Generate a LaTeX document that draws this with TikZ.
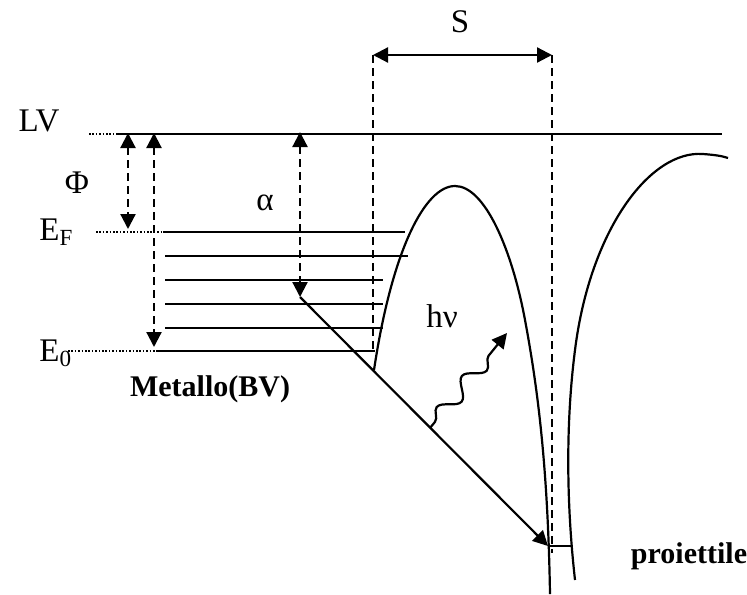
\documentclass[tikz,border=0pt]{standalone}
\usepackage{fontspec}
\setmainfont{Liberation Serif}
\usetikzlibrary{arrows.meta,decorations.pathmorphing}
\tikzset{
  level/.style={line width=1.1pt},
  guide/.style={line width=0.7pt, dash pattern=on 0.8pt off 0.9pt},
  gap/.style={line width=1.1pt, dash pattern=on 4pt off 2.5pt},
  tipboth/.style={{Triangle[length=7.5pt,width=7.5pt]}-{Triangle[length=7.5pt,width=7.5pt]}},
  tipend/.style={-{Triangle[length=7.5pt,width=7.5pt]}},
  lbl/.style={inner sep=0pt},
  boldlbl/.style={inner sep=0pt, font=\fontsize{15}{18}\selectfont\bfseries}
}
\begin{document}
\begin{tikzpicture}[x=0.5pt,y=-0.5pt,font=\fontsize{16.5}{19}\selectfont]
\useasboundingbox (0,0) rectangle (747,594);

% vacuum level and metal levels
\coordinate (lvdot) at (89,134);
\coordinate (lvA) at (118,134);
\coordinate (lvB) at (722,134);
\draw[guide] (lvdot) -- (lvA);
\draw[level] (lvA) -- (lvB);

\coordinate (efdot) at (96,232);
\coordinate (efA) at (163,232);
\coordinate (efB) at (405,232);
\draw[guide] (efdot) -- (efA);
\draw[level] (efA) -- (efB);

\coordinate (l2A) at (165,256); \coordinate (l2B) at (408,256);
\coordinate (l3A) at (165,280); \coordinate (l3B) at (383,280);
\coordinate (l4A) at (165,304); \coordinate (l4B) at (383,304);
\coordinate (l5A) at (165,328); \coordinate (l5B) at (383,328);
\draw[level] (l2A) -- (l2B);
\draw[level] (l3A) -- (l3B);
\draw[level] (l4A) -- (l4B);
\draw[level] (l5A) -- (l5B);

\coordinate (e0dot) at (68,351);
\coordinate (e0dotB) at (188,351);
\coordinate (e0A) at (157,351);
\coordinate (e0B) at (375,351);
\draw[guide] (e0dot) -- (e0dotB);
\draw[level] (e0A) -- (e0B);

% energy gaps
\coordinate (phiT) at (128,133);
\coordinate (phiB) at (128,229);
\draw[gap, tipboth] (phiT) -- (phiB);
\coordinate (bandT) at (154,133);
\coordinate (bandB) at (154,347);
\draw[gap, tipboth] (bandT) -- (bandB);
\coordinate (alT) at (300,132);
\coordinate (alB) at (300,297);
\draw[gap, tipboth] (alT) -- (alB);

% distance S
\coordinate (sL) at (373,55);
\coordinate (sR) at (552,55);
\coordinate (sLb) at (373,350);
\coordinate (sRb) at (552,553);
\draw[level, tipboth] (sL) -- (sR);
\draw[gap] (sL) -- (sLb);
\draw[gap] (sR) -- (sRb);

% potential barriers
\draw[level] (374,370) .. controls (392,250) and (425,186) .. (455,186)
  .. controls (485,186) and (512,250) .. (525,320)
  .. controls (540,400) and (548,480) .. (550,594);
\draw[level] (575,580) .. controls (566,500) and (566,420) .. (575,350)
  .. controls (590,230) and (650,150) .. (703,154)
  .. controls (716,155) and (722,156) .. (728,158);

% electron transition and photon
\coordinate (trA) at (300,297);
\coordinate (trB) at (548,546);
\coordinate (trC) at (571,546);
\draw[level, tipend] (trA) -- (trB);
\draw[level] (trB) -- (trC);

\coordinate (phA) at (430,428);
\coordinate (phB) at (507,333);
\draw[level, tipend, decorate, decoration={snake, amplitude=4pt, segment length=20pt, pre length=4pt, post length=7pt}] (phA) -- (phB);

% labels
\node[lbl] (lv) at (39,121) {LV};
\node[lbl] (phi) at (77,183) {Φ};
\node[lbl, anchor=base west] (ef) at (39,240) {E\textsubscript{F}};
\node[lbl, anchor=base west] (ezero) at (39,361) {E\textsubscript{0}};
\node[lbl] (alpha) at (265,203) {α};
\node[lbl] (s) at (460,22) {S};
\node[lbl] (hnu) at (442,316) {hν};
\node[boldlbl] (metal) at (210,389) {Metallo(BV)};
\node[boldlbl] (proj) at (689,556) {proiettile};
\end{tikzpicture}
\end{document}
